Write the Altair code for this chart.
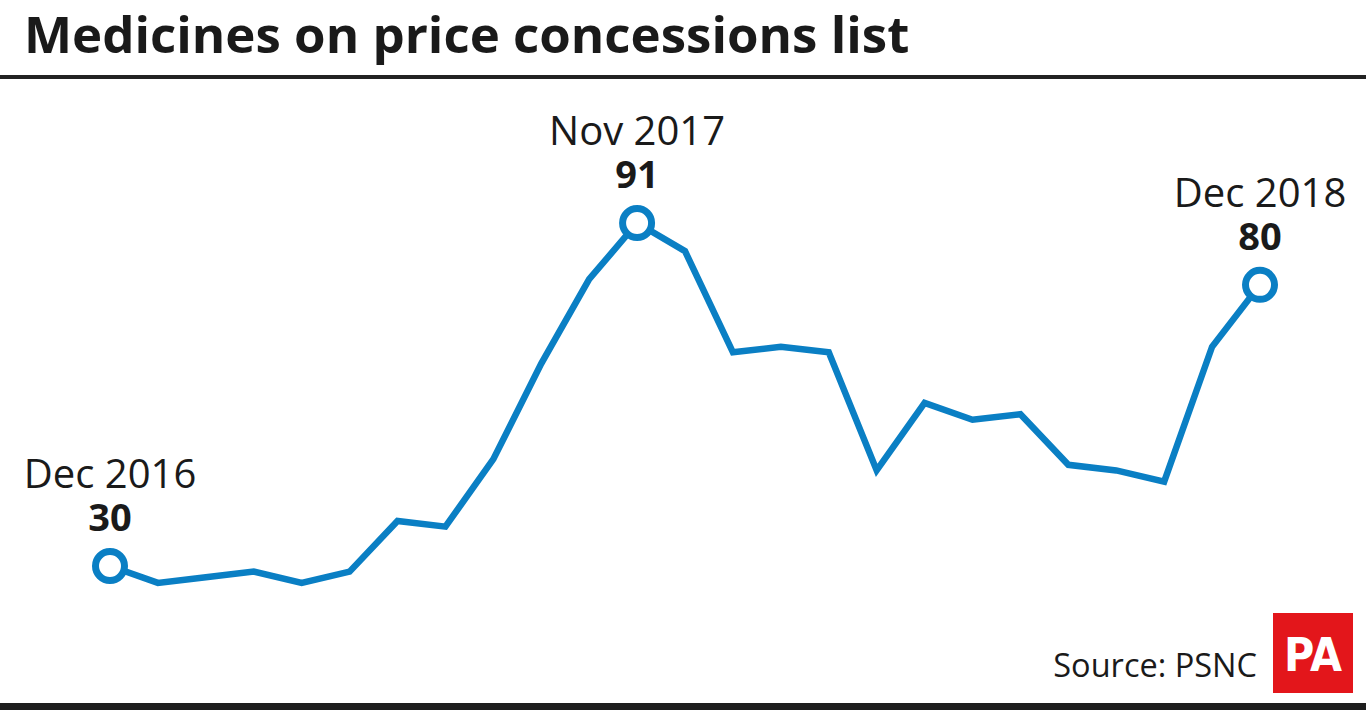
import altair as alt
import pandas as pd

months = ["Dec 2016", "Jan 2017", "Feb 2017", "Mar 2017", "Apr 2017", "May 2017",
          "Jun 2017", "Jul 2017", "Aug 2017", "Sep 2017", "Oct 2017", "Nov 2017",
          "Dec 2017", "Jan 2018", "Feb 2018", "Mar 2018", "Apr 2018", "May 2018",
          "Jun 2018", "Jul 2018", "Aug 2018", "Sep 2018", "Oct 2018", "Nov 2018",
          "Dec 2018"]
values = [30, 27, 28, 29, 27, 29, 38, 37, 49, 66, 81, 91,
          86, 68, 69, 68, 47, 59, 56, 57, 48, 47, 45, 69, 80]
highlight = ["Dec 2016", "Nov 2017", "Dec 2018"]

title_text = "Medicines on price concessions list"
source_text = "Source: PSNC"
logo_text = "PA"

BLUE = "#0a7fc4"
W, H = 1366, 710

df = pd.DataFrame({"month": months, "value": values, "i": list(range(len(months)))})
df["hl"] = df["month"].isin(highlight)

xs = alt.X("i:Q", scale=alt.Scale(domain=[-2.2957, 26.212], nice=False, zero=False), axis=None)
ys = alt.Y("value:Q", scale=alt.Scale(domain=[4.39, 130.66], nice=False, zero=False), axis=None)

base = alt.Chart(df)

line = base.mark_line(color=BLUE, strokeWidth=6.5, strokeJoin="miter", strokeCap="butt").encode(x=xs, y=ys)
pts = base.transform_filter("datum.hl").mark_point(
    shape="circle", size=841, filled=True, fill="white", stroke=BLUE, strokeWidth=7, opacity=1
).encode(x=xs, y=ys)
lab_month = base.transform_filter("datum.hl").mark_text(
    font="Open Sans", fontSize=40, color="#1a1a1a", dy=-78, baseline="alphabetic", align="center"
).encode(x=xs, y=ys, text="month:N")
lab_val = base.transform_filter("datum.hl").mark_text(
    font="Open Sans", fontSize=38, fontWeight="bold", color="#1a1a1a", dy=-35, baseline="alphabetic", align="center"
).encode(x=xs, y=ys, text="value:Q")

one = alt.Chart(pd.DataFrame({"t": [title_text], "s": [source_text], "p": [logo_text]}))

title = one.mark_text(font="Open Sans", fontSize=51, fontWeight="bold", color="#1a1a1a",
                      align="left", baseline="alphabetic").encode(
    x=alt.value(24), y=alt.value(53), text="t:N")
rule_top = one.mark_rule(color="#222222", strokeWidth=4).encode(
    x=alt.value(0), x2=alt.value(W), y=alt.value(77))
bar_bottom = one.mark_rect(color="#1e1e1e").encode(
    x=alt.value(0), x2=alt.value(W), y=alt.value(703), y2=alt.value(H))
source = one.mark_text(font="Open Sans", fontSize=32.5, color="#1a1a1a",
                       align="right", baseline="alphabetic").encode(
    x=alt.value(1257), y=alt.value(677), text="s:N")
logo_box = one.mark_rect(color="#e3161b").encode(
    x=alt.value(1273), x2=alt.value(1353), y=alt.value(613), y2=alt.value(693))
logo = one.mark_text(font="DejaVu Sans Condensed, Roboto Condensed, Roboto, sans-serif", fontSize=46,
                     fontWeight="bold", color="white",
                     align="center", baseline="alphabetic").encode(
    x=alt.value(1313), y=alt.value(671), text="p:N")

chart = alt.layer(line, pts, lab_month, lab_val, title, rule_top, bar_bottom, source, logo_box, logo).properties(
    width=W, height=H, padding=0, autosize=alt.AutoSizeParams(type="none"),
    background="white"
).configure_view(stroke=None)

chart.save("out.html", embed_options={"renderer": "svg", "actions": False})
